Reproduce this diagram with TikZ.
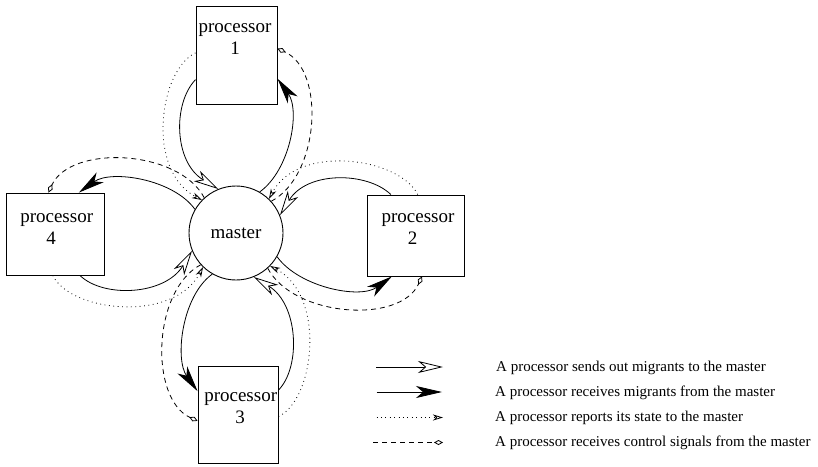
\documentclass[tikz,border=0pt]{standalone}
\usepackage{fontspec}
\setmainfont{Liberation Serif}
\usetikzlibrary{arrows.meta}
\begin{document}
\begin{tikzpicture}[x=1pt,y=1pt,
  box/.style={draw, line width=0.9pt, inner sep=0pt, fill=white},
  lbl/.style={font=\fontsize{19}{21}\selectfont, inner sep=0pt, anchor=base},
  leg/.style={font=\fontsize{15}{17}\selectfont, inner sep=0pt, anchor=base west},
  conn/.style={line width=0.8pt},
  sends/.style={conn, -{Stealth[fill=white, length=25pt, width=12pt, inset=7pt]}},
  receives/.style={conn, -{Stealth[length=26pt, width=12pt, inset=7pt]}},
  reports/.style={conn, dash pattern=on 0.8pt off 3.6pt, -{Stealth[fill=white, length=10pt, width=6pt, inset=3pt]}},
  control/.style={conn, dash pattern=on 5pt off 4pt, -{Diamond[fill=white, length=9pt, width=5pt]}}]
\useasboundingbox (0,0) rectangle (818,-466);

% master
\node[draw, circle, line width=0.9pt, minimum size=94pt, inner sep=0pt,
      font=\fontsize{19}{21}\selectfont] (m) at (236,-233) {master};

% processors
\node[box, minimum width=81pt, minimum height=98pt] (p1) at (236.5,-55) {};
\node[box, minimum width=97pt, minimum height=81pt] (p2) at (415.5,-235.5) {};
\node[box, minimum width=80pt, minimum height=97pt] (p3) at (238,-414.5) {};
\node[box, minimum width=98pt, minimum height=82pt] (p4) at (55,-234) {};

\node[lbl] (p1a) at (235,-32.5) {processor};
\node[lbl] (p1b) at (235,-54) {1};
\node[lbl] (p2a) at (418,-222.5) {processor};
\node[lbl] (p2b) at (412.7,-244) {2};
\node[lbl] (p3a) at (240.7,-401) {processor};
\node[lbl] (p3b) at (240,-423) {3};
\node[lbl] (p4a) at (56.7,-222.5) {processor};
\node[lbl] (p4b) at (51,-244) {4};

% connectors (pattern of processor 1 rotated round the master)
\foreach \p/\r in {p1/0, p2/-90, p3/-180, p4/90} {
  \pgfmathsetmacro\bA{mod(\r+211.7+720,360)}
  \pgfmathsetmacro\mA{mod(\r+112+720,360)}
  \pgfmathsetmacro\cAa{\r+226}
  \pgfmathsetmacro\cAb{\r+148.7}
  \draw[sends] (\p.\bA) .. controls +(\cAa:33) and +(\cAb:52) .. (m.\mA);
  \pgfmathsetmacro\mB{mod(\r+60+720,360)}
  \pgfmathsetmacro\bB{mod(\r+330.4+720,360)}
  \pgfmathsetmacro\cBa{\r+35.8}
  \pgfmathsetmacro\cBb{\r-54.3}
  \draw[receives] (m.\mB) .. controls +(\cBa:37.6) and +(\cBb:39.4) .. (\p.\bB);
  \pgfmathsetmacro\bC{mod(\r+177.2+720,360)}
  \pgfmathsetmacro\mC{mod(\r+136+720,360)}
  \pgfmathsetmacro\cCa{\r+205.3}
  \pgfmathsetmacro\cCb{\r+152.2}
  \draw[reports] (\p.\bC) .. controls +(\cCa:40) and +(\cCb:64) .. (m.\mC);
  \pgfmathsetmacro\mD{mod(\r+42+720,360)}
  \pgfmathsetmacro\bD{mod(\r+9.8+720,360)}
  \pgfmathsetmacro\cDa{\r+27.9}
  \pgfmathsetmacro\cDb{\r-24.6}
  \draw[control] (m.\mD) .. controls +(\cDa:55) and +(\cDb:53) .. (\p.\bD);
}

% legend
\coordinate (l1a) at (376,-367);   \coordinate (l1b) at (443,-367);
\coordinate (l2a) at (376.5,-392); \coordinate (l2b) at (442,-392);
\coordinate (l3a) at (376.5,-417.5); \coordinate (l3b) at (443,-417.5);
\coordinate (l4a) at (373,-442.5); \coordinate (l4b) at (443,-442.5);
\draw[sends] (l1a) -- (l1b);
\draw[receives] (l2a) -- (l2b);
\draw[reports] (l3a) -- (l3b);
\draw[control] (l4a) -- (l4b);
\node[leg] (t1) at (496,-371) {A processor sends out migrants to the master};
\node[leg] (t2) at (495,-396) {A processor receives migrants from the master};
\node[leg] (t3) at (495,-421.5) {A processor reports its state to the master};
\node[leg] (t4) at (495,-446.5) {A processor receives control signals from the master};
\end{tikzpicture}
\end{document}
